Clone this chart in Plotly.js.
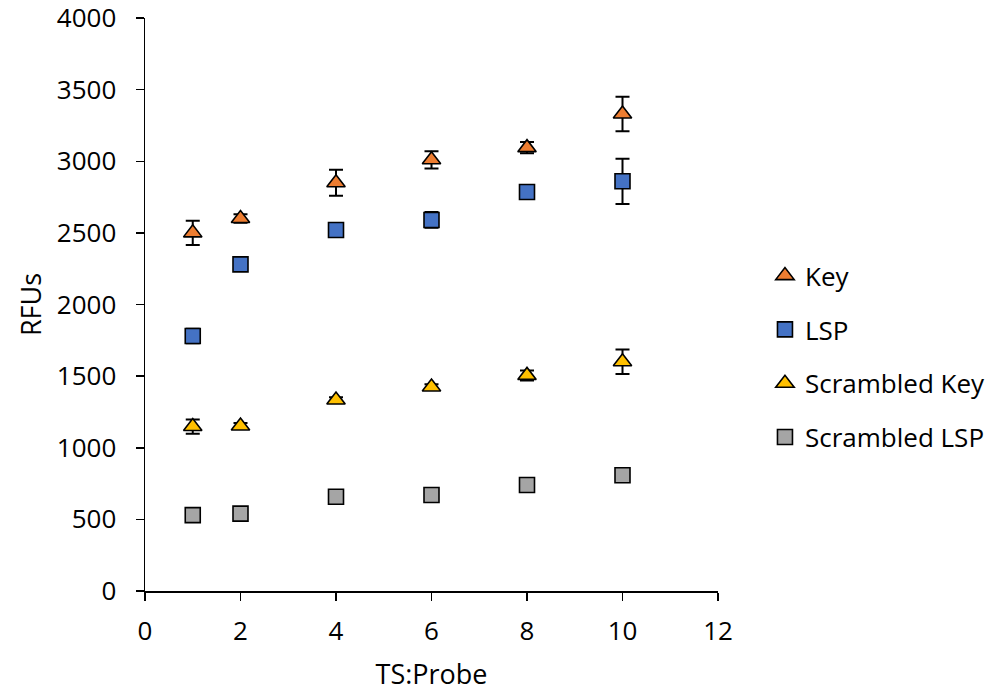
<!DOCTYPE html>
<html>
<head>
<meta charset="utf-8">
<script src="https://cdn.plot.ly/plotly-3.0.1.min.js"></script>
<style>html,body{margin:0;padding:0;background:#fff;}#chart{width:998px;height:694px;}</style>
</head>
<body>
<div id="chart"></div>
<script>
const ratio = [1, 2, 4, 6, 8, 10];
const keyVals = [2500, 2600, 2850, 3010, 3095, 3330];
const keyErr = [85, 30, 90, 60, 40, 120];
const lspVals = [1780, 2280, 2520, 2590, 2785, 2860];
const lspErr = [50, 20, 20, 55, 40, 158];
const scrKeyVals = [1148, 1152, 1333, 1424, 1505, 1600];
const scrKeyErr = [50, 20, 20, 20, 35, 85];
const scrLspVals = [530, 540, 658, 670, 740, 808];
const scrLspErr = [15, 15, 15, 15, 15, 15];
const seriesNames = ['Key', 'LSP', 'Scrambled Key', 'Scrambled LSP'];

const colors = ['#ED7D31', '#4472C4', '#FFC000', '#A5A5A5'];
const symbols = ['triangle-up', 'square', 'triangle-up', 'square'];
const vals = [keyVals, lspVals, scrKeyVals, scrLspVals];
const errs = [keyErr, lspErr, scrKeyErr, scrLspErr];

const traces = seriesNames.map((n, i) => ({
  type: 'scatter', mode: 'markers', name: n, legendgroup: 'g' + i,
  x: ratio, y: vals[i],
  error_y: {type: 'data', array: errs[i], visible: true, color: '#000', thickness: 2, width: 7},
  marker: {symbol: symbols[i], size: symbols[i] === 'square' ? 15 : 16, color: colors[i], line: {color: '#000', width: 1.6}}
}));

const tickFont = {family: 'Open Sans', size: 26, color: '#000'};
const bigFont = {family: 'Open Sans', size: 27, color: '#000'};
const legFont = {family: 'Open Sans', size: 26, color: '#000'};
const layout = {
  width: 998, height: 694,
  margin: {l: 145, r: 280, t: 18, b: 103, autoexpand: false},
  paper_bgcolor: '#fff', plot_bgcolor: '#fff',
  font: tickFont,
  showlegend: true,
  legend: {xref: 'container', yref: 'container', x: 0.7665, xanchor: 'left', y: 0.486, yanchor: 'middle',
           tracegroupgap: 17, font: legFont, bgcolor: 'rgba(0,0,0,0)'},
  xaxis: {
    range: [0, 12], tickvals: [0, 2, 4, 6, 8, 10, 12], showgrid: false, zeroline: false,
    showline: true, linecolor: '#000', linewidth: 1.5, ticks: 'outside', ticklen: 8, tickwidth: 1.5, tickcolor: '#000',
    ticklabelstandoff: 8, tickfont: tickFont, ticklabeloverflow: 'allow',
    title: {text: 'TS:Probe', font: bigFont, standoff: 18}
  },
  yaxis: {
    range: [0, 4000], tickvals: [0, 500, 1000, 1500, 2000, 2500, 3000, 3500, 4000], showgrid: false, zeroline: false,
    showline: true, linecolor: '#000', linewidth: 1.5, ticks: 'outside', ticklen: 8, tickwidth: 1.5, tickcolor: '#000',
    ticklabelstandoff: 14, tickfont: tickFont, ticklabeloverflow: 'allow',
    title: {text: 'RFUs', font: bigFont, standoff: 7}
  }
};
Plotly.newPlot('chart', traces, layout, {staticPlot: true});
</script>
</body>
</html>
